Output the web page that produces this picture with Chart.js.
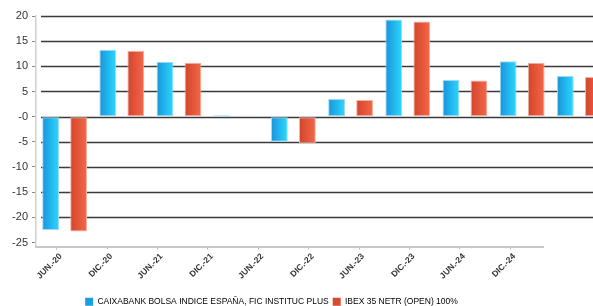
<!DOCTYPE html>
<html>
<head>
<meta charset="utf-8">
<script src="https://cdn.jsdelivr.net/npm/chart.js@4.4.1/dist/chart.umd.min.js"></script>
<style>
  html, body { margin: 0; padding: 0; background: #fff; overflow: hidden; }
  #wrap { width: 593px; height: 306px; }
</style>
</head>
<body>
<div id="wrap"><canvas id="myChart" width="593" height="306"></canvas></div>
<script>
var periodLabels = ['JUN.-20', 'DIC.-20', 'JUN.-21', 'DIC.-21', 'JUN.-22', 'DIC.-22', 'JUN.-23', 'DIC.-23', 'JUN.-24', 'DIC.-24'];
var fundValues = [-22.5, 13.3, 10.9, 0.3, -5.0, 3.5, 19.3, 7.3, 11.0, 8.1];
var indexValues = [-22.8, 13.1, 10.7, 0.2, -5.3, 3.3, 18.9, 7.2, 10.7, 7.9];
var yTicks = [20, 15, 10, 5, 0, -5, -10, -15, -20, -25];
var seriesNames = ['CAIXABANK BOLSA INDICE ESPAÑA, FIC INSTITUC PLUS', 'IBEX 35 NETR (OPEN) 100%'];

function toPoints(values) {
    return values.map(function (v, i) { return { x: i, y: v }; });
}

// horizontal gradient per bar, computed from the x scale
function barGradient(dark, light, side) {
    return function (ctx) {
        var chart = ctx.chart;
        var scale = chart.scales.x;
        if (!scale || !chart.chartArea) return dark;
        var center = scale.getPixelForValue(ctx.dataIndex) + side * 14;
        var g = chart.ctx.createLinearGradient(center - 8, 0, center + 8, 0);
        g.addColorStop(0, dark);
        g.addColorStop(1, light);
        return g;
    };
}

var gridLines = {
    id: 'gridLines',
    beforeDatasetsDraw: function (chart) {
        var y = chart.scales.y;
        var c = chart.ctx;
        c.save();
        c.strokeStyle = '#3a3a3a';
        c.lineWidth = 1.5;
        yTicks.forEach(function (t) {
            if (t === -25) return;
            var py = Math.round(y.getPixelForValue(t)) + 0.5;
            c.beginPath();
            c.moveTo(chart.chartArea.left + 5, py);
            c.lineTo(chart.width, py);
            c.stroke();
        });
        c.restore();
    }
};

var config = {
    type: 'bar',
    data: {
        datasets: [{
            label: seriesNames[0],
            data: toPoints(fundValues),
            backgroundColor: barGradient('#1a95db', '#2ad6ff', -1),
            borderColor: '#9fd9f4',
            borderWidth: 1,
            borderSkipped: false,
            clip: false
        }, {
            label: seriesNames[1],
            data: toPoints(indexValues),
            backgroundColor: barGradient('#d4462c', '#f46647', 1),
            borderColor: '#f2b3a6',
            borderWidth: 1,
            borderSkipped: false,
            clip: false
        }]
    },
    options: {
        responsive: false,
        animation: false,
        layout: { padding: { top: 16, right: 50, left: 0, bottom: -10 } },
        datasets: { bar: { categoryPercentage: 0.98, barPercentage: 0.6 } },
        plugins: {
            tooltip: { enabled: false },
            legend: {
                position: 'bottom',
                labels: {
                    boxWidth: 8,
                    boxHeight: 8,
                    padding: 4,
                    color: '#333',
                    font: { family: 'Liberation Sans, Arial, sans-serif', size: 8.5 },
                    generateLabels: function (chart) {
                        var fills = ['#1a9fe0', '#d94a30'];
                        return chart.data.datasets.map(function (ds, i) {
                            return { text: ds.label, fillStyle: fills[i], strokeStyle: fills[i], lineWidth: 0, datasetIndex: i };
                        });
                    }
                }
            }
        },
        scales: {
            x: {
                type: 'linear',
                display: false,
                offset: false,
                grid: { offset: false },
                min: -0.5,
                max: 8.364,
                afterBuildTicks: function (scale) {
                    scale.ticks = [0, 1, 2, 3, 4, 5, 6, 7, 8].map(function (v) { return { value: v }; });
                }
            },
            xl: {
                type: 'linear',
                position: 'bottom',
                offset: false,
                min: -0.41,
                max: 9.65,
                afterBuildTicks: function (scale) {
                    scale.ticks = periodLabels.map(function (_, i) { return { value: i }; });
                },
                afterFit: function (scale) { scale.height = 47; },
                grid: { offset: false, drawOnChartArea: false, drawTicks: true, tickLength: 3, color: '#bbb' },
                border: { color: '#c8c8c8', width: 2 },
                ticks: {
                    autoSkip: false,
                    minRotation: 45,
                    maxRotation: 45,
                    padding: 2,
                    labelOffset: 4,
                    color: '#333',
                    font: { family: 'Liberation Sans, Arial, sans-serif', size: 8.5, weight: 'bold' },
                    callback: function (v) { return periodLabels[v]; }
                }
            },
            y: {
                min: -25.8,
                max: 20,
                afterBuildTicks: function (scale) {
                    scale.ticks = yTicks.map(function (v) { return { value: v }; });
                },
                afterFit: function (scale) { scale.width = 36; },
                grid: { drawOnChartArea: false, drawTicks: true, tickLength: 4, color: '#888' },
                border: { color: '#d0d0d0', width: 1.5 },
                ticks: {
                    padding: 4,
                    color: '#333',
                    font: { family: 'Liberation Sans, Arial, sans-serif', size: 11 },
                    callback: function (v) { return v === 0 ? '-0' : String(v); }
                }
            }
        }
    },
    plugins: [gridLines]
};

var ctx = document.getElementById('myChart').getContext('2d');
var currentChart = new Chart(ctx, config);
</script>
</body>
</html>
